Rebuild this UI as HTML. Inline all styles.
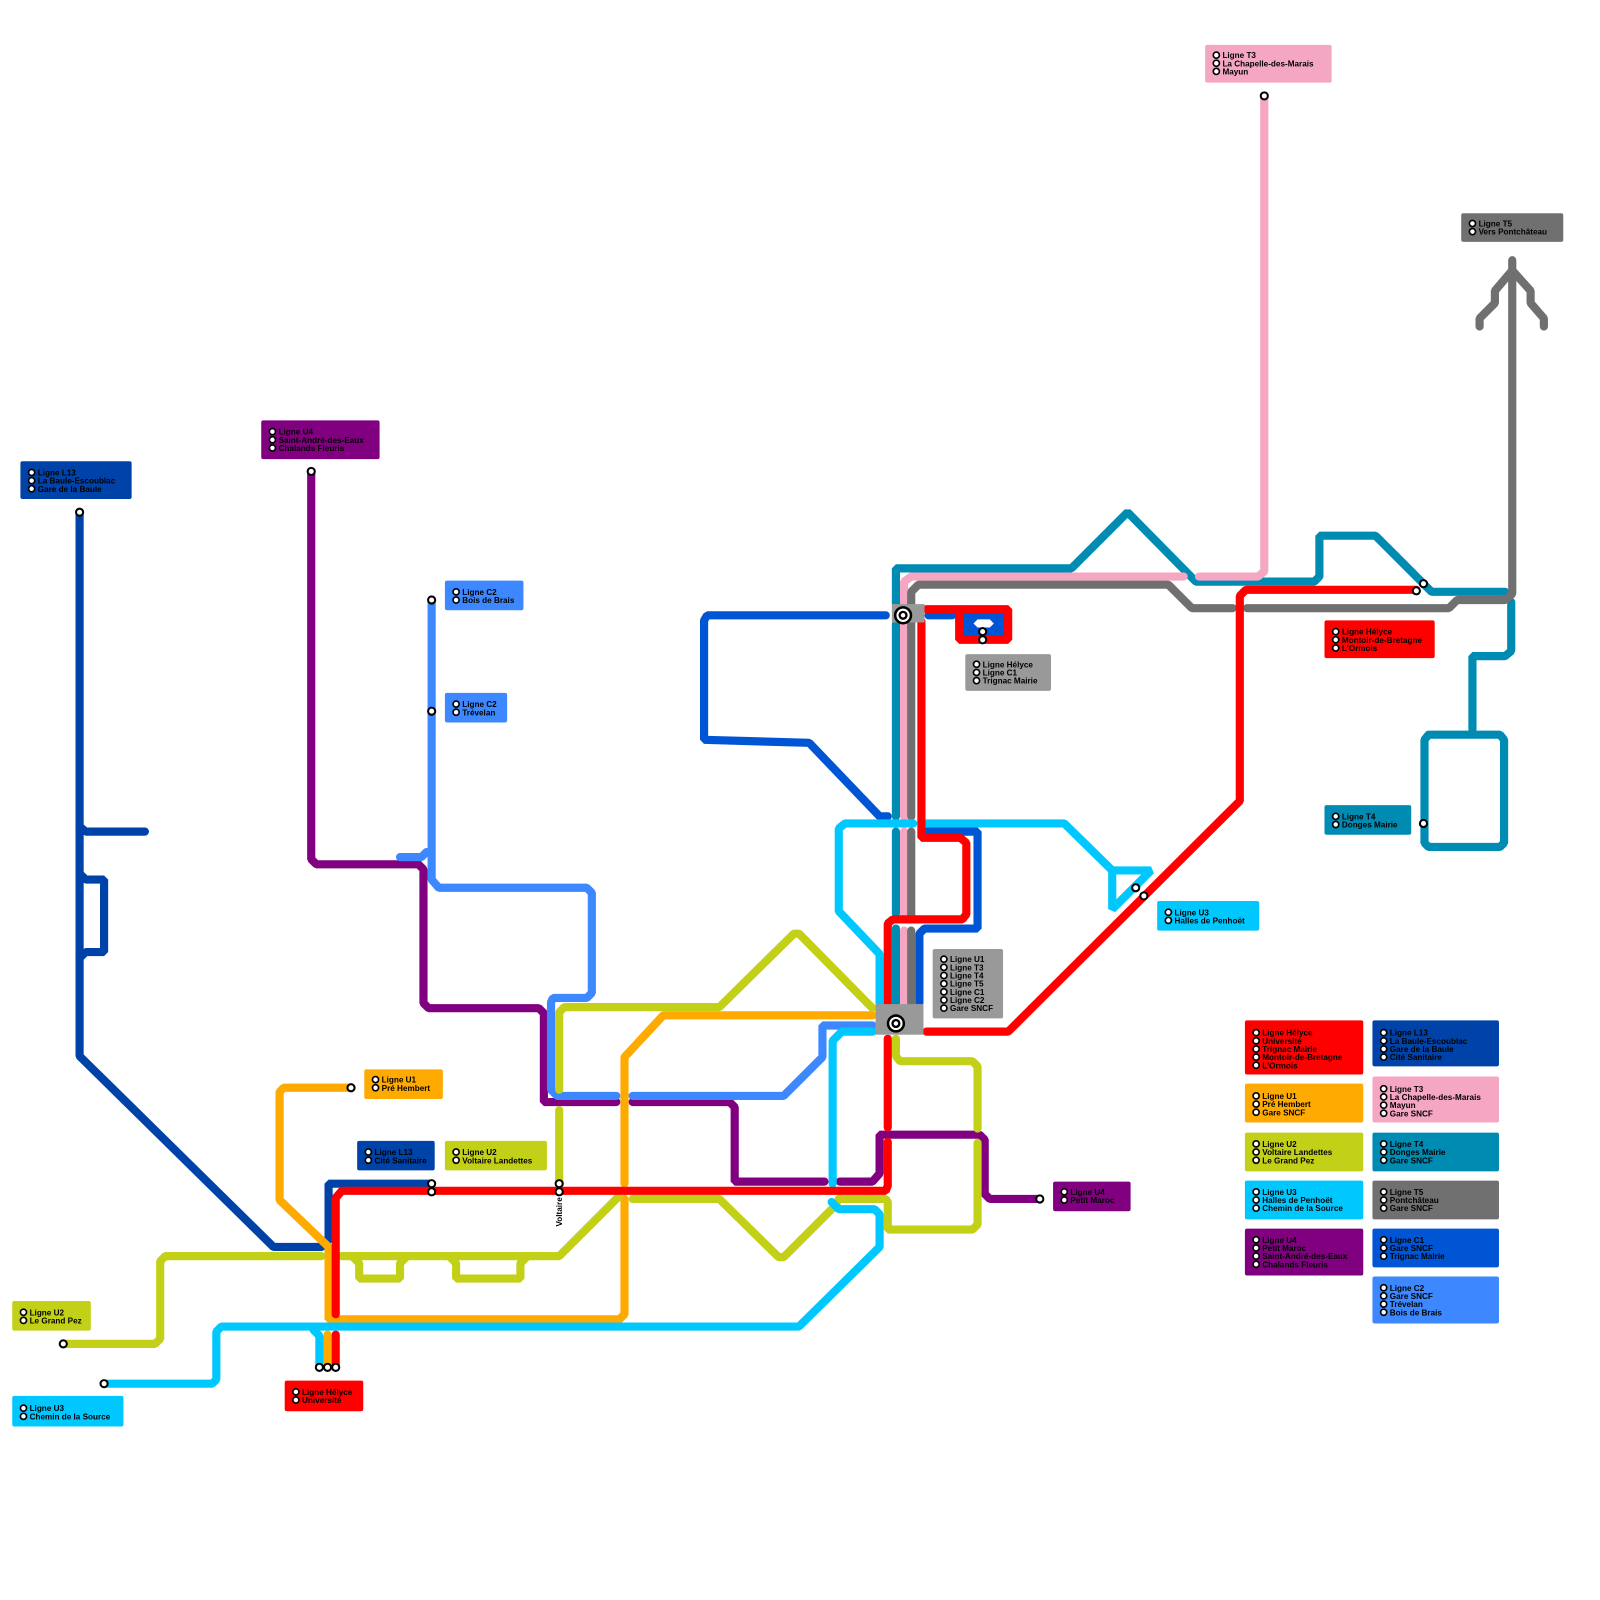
<!DOCTYPE html>
<html><head><meta charset="utf-8"><style>html,body{margin:0;padding:0;background:#fff}svg{display:block}</style></head>
<body>
<svg width="1600" height="1600" viewBox="0 0 1568 1568" xmlns="http://www.w3.org/2000/svg">
<rect width="1568" height="1568" fill="#fff"/>
<g fill="none" stroke-width="8" stroke-linecap="round" stroke-linejoin="bevel">
<!-- L13 -->
<g stroke="#0043a8">
<polyline points="78,502 78,1035 268,1222 315,1222"/>
<polyline points="78,810 84,815 142,815"/>
<polyline points="78,856 84,862 102,862 102,933 84,933 78,939"/>
<polyline points="322,1215 322,1160 423,1160"/>
</g>
<!-- U4 purple -->
<g stroke="#800080">
<polyline points="305,462 305,842 310,847 410,847 415,852 415,983 420,988 528,988 533,993 533,1080 604,1080"/>
<polyline points="620,1080 715,1080 720,1085 720,1158 808,1158"/>
<polyline points="823,1158 855,1158 862,1150 862,1112 960,1112 965,1117 965,1170 970,1175 1018,1175"/>
</g>
<!-- C2 -->
<g stroke="#3d88ff">
<polyline points="423,588 423,862 430,870 575,870 580,875 580,973 575,978 542,978 540,982 540,1068 546,1074 604,1074"/>
<polyline points="620,1074 768,1074 806,1036 806,1005 855,1005"/>
<polyline points="392,840 413,840 418,835"/>
</g>
<!-- C1 -->
<g stroke="#0055d4">
<polyline points="868,603 693,603 690,608 690,725 793,728 862,800 870,800"/>
<polyline points="910,603 933,603"/>
<polyline points="901,983 901,915 906,910 958,910 958,815 908,815"/>
</g>
<!-- T4 teal -->
<g stroke="#008bb3">
<polyline points="878,592 878,557 1050,557 1105,502 1172,570 1288,570 1293,565 1293,525 1348,525 1403,580 1475,580"/>
<polyline points="878,612 878,800"/><polyline points="878,815 878,895"/><polyline points="878,910 878,983"/>
<polyline points="1481,590 1481,638 1475,643 1443,643 1443,715"/>
<polyline points="1400,720 1470,720 1474,725 1474,826 1470,830 1400,830 1396,826 1396,725 1400,720"/>
</g>
<!-- T3 pink -->
<g stroke="#f4a6c3">
<polyline points="886,983 886,912"/><polyline points="886,897 886,815"/>
<polyline points="886,800 886,570 893,565 1160,565"/>
<polyline points="1175,565 1233,565 1239,560 1239,94"/>
</g>
<!-- T5 grey -->
<g stroke="#707070">
<polyline points="893,983 893,912"/><polyline points="893,897 893,815"/>
<polyline points="893,800 893,580 900,573 1145,573 1168,596 1208,596"/>
<polyline points="1222,596 1420,596 1428,588 1475,588 1482,582 1482,255"/>
<polyline points="1450,320 1450,312 1465,297 1465,285 1482,265 1500,285 1500,297 1513,312 1513,320"/>
</g>
<!-- U1 orange -->
<g stroke="#ffaa00">
<polyline points="344,1066 278,1066 274,1070 274,1176 322,1222 322,1293 607,1293 612,1288 612,1175"/>
<polyline points="612,1160 612,1036 650,995 855,995"/>
<polyline points="321,1308 321,1340"/>
</g>
<!-- U2 lime -->
<g stroke="#c2d118">
<polyline points="62,1317 152,1317 157,1312 157,1236 162,1231 315,1231"/>
<polyline points="335,1231 548,1231 606,1173"/>
<polyline points="345,1231 352,1238 352,1253 392,1253 392,1238 399,1231"/>
<polyline points="440,1231 447,1238 447,1253 510,1253 510,1238 517,1231"/>
<polyline points="620,1175 705,1175 763,1232 768,1232 820,1180"/>
<polyline points="822,1175 868,1175 870,1178 870,1205 953,1205 958,1200 958,1120"/>
<polyline points="958,1106 958,1045 953,1040 882,1040 878,1035 878,1018"/>
<polyline points="548,1068 548,992 553,987 705,987 778,915 783,915 855,988"/>
<polyline points="548,1088 548,1158"/>
</g>
<!-- U3 cyan -->
<g stroke="#00c8ff">
<polyline points="102,1356 208,1356 212,1352 212,1305 217,1300 783,1300 862,1222 862,1190 857,1185 822,1185 815,1178"/>
<polyline points="816,1160 816,1020 825,1011 855,1011"/>
<polyline points="307,1303 313,1309 313,1340"/>
<polyline points="862,984 862,935 822,893 822,812 828,807 895,807"/>
<polyline points="908,807 1043,807 1090,853 1128,853 1090,891 1090,853"/>
</g>
<!-- Red -->
<g stroke="#ff0000">
<polyline points="329,1288 329,1174 335,1167 868,1167 870,1162 870,1119"/>
<polyline points="870,1105 870,1018"/>
<polyline points="870,985 870,905 875,901 943,901 947,896 947,826 941,821 903,821 903,609"/>
<polyline points="908,1011 988,1011 1215,785 1215,584 1221,578 1388,578"/>
<polyline points="329,1308 329,1340"/>
</g>
</g>
<!-- C1 terminal loop -->
<rect x="940" y="597" width="48" height="30" fill="#0055d4" stroke="#ff0000" stroke-width="8" stroke-linejoin="bevel"/>
<polyline points="908,597 940,597" stroke="#ff0000" stroke-width="8" stroke-linecap="round" fill="none"/>
<polygon points="954,611 958,607 970,607 974,611 970,615 958,615" fill="#fff"/>
<!-- interchange stations -->
<rect x="874" y="592" width="32" height="18" fill="#999"/>
<rect x="858" y="984" width="47" height="30" fill="#999"/>
<g>
<circle cx="885" cy="603" r="9" fill="#000"/><circle cx="885" cy="603" r="6.5" fill="#fff"/><circle cx="885" cy="603" r="4.5" fill="#000"/><circle cx="885" cy="603" r="2.2" fill="#fff"/>
<circle cx="878" cy="1003" r="9" fill="#000"/><circle cx="878" cy="1003" r="6.5" fill="#fff"/><circle cx="878" cy="1003" r="4.5" fill="#000"/><circle cx="878" cy="1003" r="2.2" fill="#fff"/>
</g>
<!-- stations -->
<g fill="#fff" stroke="#000" stroke-width="2">
<circle cx="78" cy="502" r="3.5"/><circle cx="305" cy="462" r="3.5"/><circle cx="423" cy="588" r="3.5"/><circle cx="423" cy="697" r="3.5"/>
<circle cx="344" cy="1066" r="3.5"/><circle cx="423" cy="1160" r="3.5"/><circle cx="423" cy="1168" r="3.5"/><circle cx="548" cy="1160" r="3.5"/><circle cx="548" cy="1168" r="3.5"/>
<circle cx="62" cy="1317" r="3.5"/><circle cx="102" cy="1356" r="3.5"/><circle cx="313" cy="1340" r="3.5"/><circle cx="321" cy="1340" r="3.5"/><circle cx="329" cy="1340" r="3.5"/>
<circle cx="1019" cy="1175" r="3.5"/><circle cx="1113" cy="870" r="3.5"/><circle cx="1121" cy="878" r="3.5"/><circle cx="1388" cy="579" r="3.5"/><circle cx="1395" cy="572" r="3.5"/>
<circle cx="1395" cy="807" r="3.5"/><circle cx="1239" cy="94" r="3.5"/><circle cx="963" cy="619" r="3.5"/><circle cx="963" cy="627" r="3.5"/>
</g>
<text x="551" y="1202" transform="rotate(-90 551 1202)" font-family="Liberation Sans, sans-serif" font-weight="bold" font-size="8" fill="#000">Voltaire</text>

<!-- label boxes -->
<g font-family="Liberation Sans, sans-serif" font-weight="bold" font-size="8" fill="#000">
<rect x="1181" y="44" width="124" height="37" rx="2" fill="#f4a6c3"/>
<rect x="1432" y="209" width="100" height="28" rx="2" fill="#707070"/>
<rect x="256" y="412" width="116" height="38" rx="2" fill="#800080"/>
<rect x="20" y="452" width="109" height="37" rx="2" fill="#0043a8"/>
<rect x="436" y="569" width="77" height="29" rx="2" fill="#3d88ff"/>
<rect x="436" y="679" width="61" height="29" rx="2" fill="#3d88ff"/>
<rect x="946" y="641" width="84" height="36" rx="2" fill="#999"/>
<rect x="1298" y="608" width="108" height="37" rx="2" fill="#ff0000"/>
<rect x="1298" y="789" width="85" height="29" rx="2" fill="#008bb3"/>
<rect x="1134" y="883" width="100" height="29" rx="2" fill="#00c8ff"/>
<rect x="914" y="930" width="69" height="68" rx="2" fill="#999"/>
<rect x="357" y="1048" width="77" height="29" rx="2" fill="#ffaa00"/>
<rect x="350" y="1118" width="76" height="29" rx="2" fill="#0043a8"/>
<rect x="436" y="1118" width="100" height="29" rx="2" fill="#c2d118"/>
<rect x="1032" y="1158" width="76" height="29" rx="2" fill="#800080"/>
<rect x="12" y="1275" width="77" height="29" rx="2" fill="#c2d118"/>
<rect x="12" y="1368" width="109" height="30" rx="2" fill="#00c8ff"/>
<rect x="279" y="1353" width="77" height="30" rx="2" fill="#ff0000"/>
<rect x="1220" y="1000" width="116" height="53" rx="2" fill="#ff0000"/>
<rect x="1345" y="1000" width="124" height="45" rx="2" fill="#0043a8"/>
<rect x="1220" y="1062" width="116" height="38" rx="2" fill="#ffaa00"/>
<rect x="1345" y="1055" width="124" height="45" rx="2" fill="#f4a6c3"/>
<rect x="1220" y="1110" width="116" height="38" rx="2" fill="#c2d118"/>
<rect x="1345" y="1110" width="124" height="38" rx="2" fill="#008bb3"/>
<rect x="1220" y="1157" width="116" height="38" rx="2" fill="#00c8ff"/>
<rect x="1345" y="1157" width="124" height="38" rx="2" fill="#707070"/>
<rect x="1220" y="1204" width="116" height="46" rx="2" fill="#800080"/>
<rect x="1345" y="1204" width="124" height="38" rx="2" fill="#0055d4"/>
<rect x="1345" y="1251" width="124" height="46" rx="2" fill="#3d88ff"/>

<g fill="#fff" stroke="#000" stroke-width="1.6">
<circle cx="1192" cy="54" r="3"/><circle cx="1192" cy="62" r="3"/><circle cx="1192" cy="70" r="3"/>
<circle cx="1443" cy="219" r="3"/><circle cx="1443" cy="227" r="3"/>
<circle cx="267" cy="423" r="3"/><circle cx="267" cy="431" r="3"/><circle cx="267" cy="439" r="3"/>
<circle cx="31" cy="463" r="3"/><circle cx="31" cy="471" r="3"/><circle cx="31" cy="479" r="3"/>
<circle cx="447" cy="580" r="3"/><circle cx="447" cy="588" r="3"/>
<circle cx="447" cy="690" r="3"/><circle cx="447" cy="698" r="3"/>
<circle cx="957" cy="651" r="3"/><circle cx="957" cy="659" r="3"/><circle cx="957" cy="667" r="3"/>
<circle cx="1309" cy="619" r="3"/><circle cx="1309" cy="627" r="3"/><circle cx="1309" cy="635" r="3"/>
<circle cx="1309" cy="800" r="3"/><circle cx="1309" cy="808" r="3"/>
<circle cx="1145" cy="894" r="3"/><circle cx="1145" cy="902" r="3"/>
<circle cx="925" cy="940" r="3"/><circle cx="925" cy="948" r="3"/><circle cx="925" cy="956" r="3"/><circle cx="925" cy="964" r="3"/><circle cx="925" cy="972" r="3"/><circle cx="925" cy="980" r="3"/><circle cx="925" cy="988" r="3"/>
<circle cx="368" cy="1058" r="3"/><circle cx="368" cy="1066" r="3"/>
<circle cx="361" cy="1129" r="3"/><circle cx="361" cy="1137" r="3"/>
<circle cx="447" cy="1129" r="3"/><circle cx="447" cy="1137" r="3"/>
<circle cx="1043" cy="1168" r="3"/><circle cx="1043" cy="1176" r="3"/>
<circle cx="23" cy="1286" r="3"/><circle cx="23" cy="1294" r="3"/>
<circle cx="23" cy="1380" r="3"/><circle cx="23" cy="1388" r="3"/>
<circle cx="290" cy="1364" r="3"/><circle cx="290" cy="1372" r="3"/>
<circle cx="1231" cy="1012" r="3"/><circle cx="1231" cy="1020" r="3"/><circle cx="1231" cy="1028" r="3"/><circle cx="1231" cy="1036" r="3"/><circle cx="1231" cy="1044" r="3"/>
<circle cx="1356" cy="1012" r="3"/><circle cx="1356" cy="1020" r="3"/><circle cx="1356" cy="1028" r="3"/><circle cx="1356" cy="1036" r="3"/>
<circle cx="1231" cy="1074" r="3"/><circle cx="1231" cy="1082" r="3"/><circle cx="1231" cy="1090" r="3"/>
<circle cx="1356" cy="1067" r="3"/><circle cx="1356" cy="1075" r="3"/><circle cx="1356" cy="1083" r="3"/><circle cx="1356" cy="1091" r="3"/>
<circle cx="1231" cy="1121" r="3"/><circle cx="1231" cy="1129" r="3"/><circle cx="1231" cy="1137" r="3"/>
<circle cx="1356" cy="1121" r="3"/><circle cx="1356" cy="1129" r="3"/><circle cx="1356" cy="1137" r="3"/>
<circle cx="1231" cy="1168" r="3"/><circle cx="1231" cy="1176" r="3"/><circle cx="1231" cy="1184" r="3"/>
<circle cx="1356" cy="1168" r="3"/><circle cx="1356" cy="1176" r="3"/><circle cx="1356" cy="1184" r="3"/>
<circle cx="1231" cy="1215" r="3"/><circle cx="1231" cy="1223" r="3"/><circle cx="1231" cy="1231" r="3"/><circle cx="1231" cy="1239" r="3"/>
<circle cx="1356" cy="1215" r="3"/><circle cx="1356" cy="1223" r="3"/><circle cx="1356" cy="1231" r="3"/>
<circle cx="1356" cy="1262" r="3"/><circle cx="1356" cy="1270" r="3"/><circle cx="1356" cy="1278" r="3"/><circle cx="1356" cy="1286" r="3"/>
</g>

<text x="1198" y="57">Ligne T3</text><text x="1198" y="65">La Chapelle-des-Marais</text><text x="1198" y="73">Mayun</text>
<text x="1449" y="222">Ligne T5</text><text x="1449" y="230">Vers Pontchâteau</text>
<text x="273" y="426">Ligne U4</text><text x="273" y="434">Saint-André-des-Eaux</text><text x="273" y="442">Chalands Fleuris</text>
<text x="37" y="466">Ligne L13</text><text x="37" y="474">La Baule-Escoublac</text><text x="37" y="482">Gare de la Baule</text>
<text x="453" y="583">Ligne C2</text><text x="453" y="591">Bois de Brais</text>
<text x="453" y="693">Ligne C2</text><text x="453" y="701">Trévelan</text>
<text x="963" y="654">Ligne Hélyce</text><text x="963" y="662">Ligne C1</text><text x="963" y="670">Trignac Mairie</text>
<text x="1315" y="622">Ligne Hélyce</text><text x="1315" y="630">Montoir-de-Bretagne</text><text x="1315" y="638">L'Ormois</text>
<text x="1315" y="803">Ligne T4</text><text x="1315" y="811">Donges Mairie</text>
<text x="1151" y="897">Ligne U3</text><text x="1151" y="905">Halles de Penhoët</text>
<text x="931" y="943">Ligne U1</text><text x="931" y="951">Ligne T3</text><text x="931" y="959">Ligne T4</text><text x="931" y="967">Ligne T5</text><text x="931" y="975">Ligne C1</text><text x="931" y="983">Ligne C2</text><text x="931" y="991">Gare SNCF</text>
<text x="374" y="1061">Ligne U1</text><text x="374" y="1069">Pré Hembert</text>
<text x="367" y="1132">Ligne L13</text><text x="367" y="1140">Cité Sanitaire</text>
<text x="453" y="1132">Ligne U2</text><text x="453" y="1140">Voltaire Landettes</text>
<text x="1049" y="1171">Ligne U4</text><text x="1049" y="1179">Petit Maroc</text>
<text x="29" y="1289">Ligne U2</text><text x="29" y="1297">Le Grand Pez</text>
<text x="29" y="1383">Ligne U3</text><text x="29" y="1391">Chemin de la Source</text>
<text x="296" y="1367">Ligne Hélyce</text><text x="296" y="1375">Université</text>
<text x="1237" y="1015">Ligne Hélyce</text><text x="1237" y="1023">Université</text><text x="1237" y="1031">Trignac Mairie</text><text x="1237" y="1039">Montoir-de-Bretagne</text><text x="1237" y="1047">L'Ormois</text>
<text x="1362" y="1015">Ligne L13</text><text x="1362" y="1023">La Baule-Escoublac</text><text x="1362" y="1031">Gare de la Baule</text><text x="1362" y="1039">Cité Sanitaire</text>
<text x="1237" y="1077">Ligne U1</text><text x="1237" y="1085">Pré Hembert</text><text x="1237" y="1093">Gare SNCF</text>
<text x="1362" y="1070">Ligne T3</text><text x="1362" y="1078">La Chapelle-des-Marais</text><text x="1362" y="1086">Mayun</text><text x="1362" y="1094">Gare SNCF</text>
<text x="1237" y="1124">Ligne U2</text><text x="1237" y="1132">Voltaire Landettes</text><text x="1237" y="1140">Le Grand Pez</text>
<text x="1362" y="1124">Ligne T4</text><text x="1362" y="1132">Donges Mairie</text><text x="1362" y="1140">Gare SNCF</text>
<text x="1237" y="1171">Ligne U3</text><text x="1237" y="1179">Halles de Penhoët</text><text x="1237" y="1187">Chemin de la Source</text>
<text x="1362" y="1171">Ligne T5</text><text x="1362" y="1179">Pontchâteau</text><text x="1362" y="1187">Gare SNCF</text>
<text x="1237" y="1218">Ligne U4</text><text x="1237" y="1226">Petit Maroc</text><text x="1237" y="1234">Saint-André-des-Eaux</text><text x="1237" y="1242">Chalands Fleuris</text>
<text x="1362" y="1218">Ligne C1</text><text x="1362" y="1226">Gare SNCF</text><text x="1362" y="1234">Trignac Mairie</text>
<text x="1362" y="1265">Ligne C2</text><text x="1362" y="1273">Gare SNCF</text><text x="1362" y="1281">Trévelan</text><text x="1362" y="1289">Bois de Brais</text>
</g>
</svg>
</body></html>
